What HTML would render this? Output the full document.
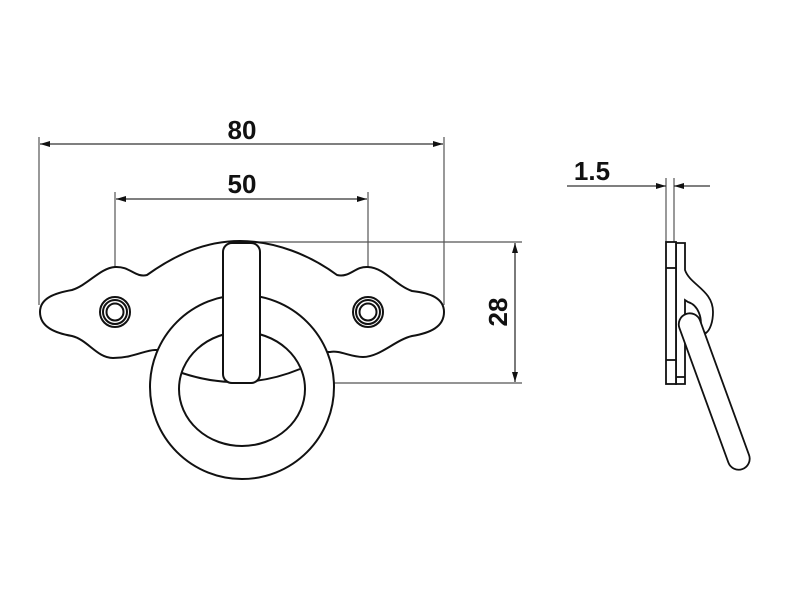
<!DOCTYPE html>
<html><head><style>
html,body{margin:0;padding:0;background:#fff;width:800px;height:600px;overflow:hidden}
svg{display:block}
text{font-family:"Liberation Sans",Arial,sans-serif;font-weight:bold;fill:#111}
</style></head><body>
<svg width="800" height="600" viewBox="0 0 800 600" xmlns="http://www.w3.org/2000/svg">
<defs>
<marker id="a" viewBox="0 0 10 6" refX="10" refY="3" markerWidth="10" markerHeight="6" orient="auto-start-reverse" markerUnits="userSpaceOnUse">
<path d="M0,0 L10,3 L0,6 z" fill="#111"/></marker>
</defs>
<g stroke="#555" stroke-width="1.2" fill="none">
<line x1="39" y1="137" x2="39" y2="305"/>
<line x1="444" y1="137" x2="444" y2="305"/>
<line x1="115" y1="192" x2="115" y2="305"/>
<line x1="368" y1="192" x2="368" y2="305"/>
<line x1="250" y1="242" x2="522" y2="242"/>
<line x1="250" y1="383" x2="522" y2="383"/>
<line x1="666" y1="178" x2="666" y2="242"/>
<line x1="674" y1="178" x2="674" y2="242"/>
</g>
<g stroke="#333" stroke-width="1.3" fill="none">
<line x1="40" y1="144" x2="443" y2="144" marker-start="url(#a)" marker-end="url(#a)"/>
<line x1="116" y1="199" x2="367" y2="199" marker-start="url(#a)" marker-end="url(#a)"/>
<line x1="515" y1="243" x2="515" y2="382" marker-start="url(#a)" marker-end="url(#a)"/>
<line x1="567" y1="186" x2="666" y2="186" marker-end="url(#a)"/>
<line x1="710" y1="186" x2="674" y2="186" marker-end="url(#a)"/>
</g>
<text x="242" y="139" font-size="26" text-anchor="middle">80</text>
<text x="242" y="193" font-size="26" text-anchor="middle">50</text>
<text x="592" y="180" font-size="26" text-anchor="middle">1.5</text>
<text transform="translate(507,312) rotate(-90)" font-size="26" text-anchor="middle">28</text>

<g stroke="#111" stroke-width="2" fill="#fff">
<path d="M147,275 C175,255 205,241 240,241 C275,241 310,255 337,275 C350,278 355,266 368,267 C385,268 395,285 412,291 C430,293 444,298 444,312 C444,327 430,333 412,336 C395,340 380,357 363,357 C350,357 340,350 330,352 L155,350 C145,350 133,358 113,358 C97,358 88,340 72,336 C55,333 40,327 40,312 C40,298 55,293 72,290 C88,285 100,268 115,267 C130,266 135,278 147,275 Z"/>
<circle cx="115" cy="312" r="15"/>
<circle cx="115" cy="312" r="12"/>
<circle cx="115" cy="312" r="8.5"/>
<circle cx="368" cy="312" r="15"/>
<circle cx="368" cy="312" r="12"/>
<circle cx="368" cy="312" r="8.5"/>
<circle cx="242" cy="387" r="92"/>
<ellipse cx="242" cy="389" rx="63" ry="57"/>
<path d="M182,373 Q242,393 300,369" fill="none"/>
<rect x="223" y="243" width="37" height="140" rx="9"/>
</g>
<g stroke="#111" stroke-width="1.8" fill="#fff">
<path d="M676,243 L685,243 L685,270 C690,285 713,290 713,312 C713,322 710,330 706,333 L700,330 C703,318 698,305 688,302 L685,300 L685,384 L676,384 Z"/>
<rect x="666" y="242" width="10" height="142"/>
<line x1="666" y1="268" x2="676" y2="268"/>
<line x1="666" y1="360" x2="676" y2="360"/>
<line x1="676" y1="377" x2="685" y2="377"/>
<rect x="-11" y="0" width="22" height="165" rx="11" transform="translate(686,314) rotate(-20)"/>
</g>
</svg>
</body></html>
